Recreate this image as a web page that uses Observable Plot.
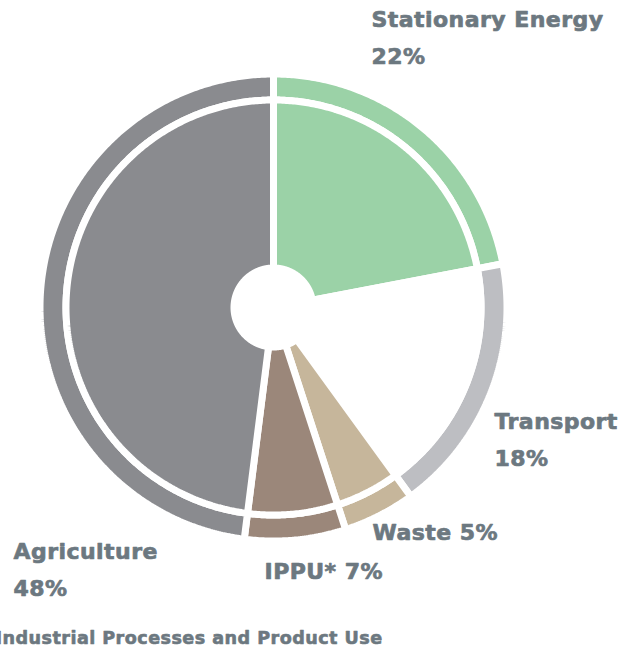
<!DOCTYPE html>
<html>
<head>
<meta charset="utf-8">
<script src="https://cdn.jsdelivr.net/npm/d3@7"></script>
<script src="https://cdn.jsdelivr.net/npm/@observablehq/plot@0.6"></script>
<style>
  html, body { margin: 0; padding: 0; background: #fff; }
  svg { display: block; }
</style>
</head>
<body>
<div id="chart"></div>
<script>
// ---- data ----
const categories = ["Stationary Energy", "Transport", "Waste", "IPPU*", "Agriculture"];
const shares = [22, 18, 5, 7, 48];
const labels = ["Stationary Energy\n22%", "Transport\n18%", "Waste 5%", "IPPU* 7%", "Agriculture\n48%"];
const footnote = "Industrial Processes and Product Use";

// colours (inner pie, outer ring)
const innerColors = ["#9bd2a7", "#ffffff", "#c6b69b", "#9b877a", "#8a8b8f"];
const ringColors = ["#9bd2a7", "#bdbec2", "#c6b69b", "#9b877a", "#8a8b8f"];

// label anchor points (chart units, relative to the pie centre)
const labelX = [98, 221, 99, -9, -260];
const labelY = [-307, 95, 206, 245, 225];

// ---- geometry ----
const W = 637, H = 660, CX = 273, CY = 307;
const gap = 7;
const R = { hole: 43 - gap / 2, pieOuter: 204 + gap / 2, ringInner: 211 - gap / 2, ringOuter: 230 + gap / 2 };
const total = d3.sum(shares);
let acc = 0;
const slices = categories.map((c, i) => {
  const a0 = acc / total * 2 * Math.PI;
  acc += shares[i];
  const a1 = acc / total * 2 * Math.PI;
  return { c, i, a0, a1 };
});

function arcPoly(s, r0, r1, layer) {
  const pts = [];
  const n = Math.max(4, Math.ceil((s.a1 - s.a0) / (Math.PI / 360)));
  for (let k = 0; k <= n; k++) {
    const a = s.a0 + (s.a1 - s.a0) * k / n;
    pts.push({ key: layer + s.i, x: r1 * Math.sin(a), y: -r1 * Math.cos(a), i: s.i });
  }
  for (let k = n; k >= 0; k--) {
    const a = s.a0 + (s.a1 - s.a0) * k / n;
    pts.push({ key: layer + s.i, x: r0 * Math.sin(a), y: -r0 * Math.cos(a), i: s.i });
  }
  pts.push({ ...pts[0] });
  pts.push({ ...pts[1] });
  return pts;
}

const pieRows = slices.flatMap(s => arcPoly(s, R.hole, R.pieOuter, "p"));
const ringRows = slices.flatMap(s => arcPoly(s, R.ringInner, R.ringOuter, "r"));
const labelRows = labels.map((t, i) => ({ t, x: labelX[i], y: labelY[i] }));

const font = "'DejaVu Sans', 'Open Sans', sans-serif";
const textColor = "#6c7880";
const chart = Plot.plot({
  width: W,
  height: H,
  margin: 0,
  style: { background: "#fff", overflow: "visible", letterSpacing: "0.45px" },
  x: { domain: [-CX, W - CX], range: [0, W], axis: null },
  y: { domain: [-CY, H - CY], range: [0, H], axis: null },
  marks: [
    Plot.line(ringRows, {
      x: "x", y: "y", z: "key",
      fill: d => ringColors[d.i],
      stroke: "#fff", strokeWidth: gap, strokeLinejoin: "miter", curve: "linear"
    }),
    Plot.line(pieRows, {
      x: "x", y: "y", z: "key",
      fill: d => innerColors[d.i],
      stroke: "#fff", strokeWidth: gap, strokeLinejoin: "miter", curve: "linear"
    }),
    Plot.text(labelRows, {
      x: "x", y: "y", text: "t",
      textAnchor: "start", lineAnchor: "top", lineHeight: 1.68,
      fill: textColor, stroke: textColor, strokeWidth: 0.7,
      fontSize: 22, fontWeight: "bold",
      fontFamily: font
    }),
    Plot.text([footnote], {
      x: -CX - 5, y: 324, text: d => d,
      textAnchor: "start", lineAnchor: "top",
      fill: textColor, stroke: textColor, strokeWidth: 0.6,
      fontSize: 17.6, fontWeight: "bold",
      fontFamily: font
    })
  ]
});
document.getElementById("chart").appendChild(chart);
</script>
</body>
</html>
